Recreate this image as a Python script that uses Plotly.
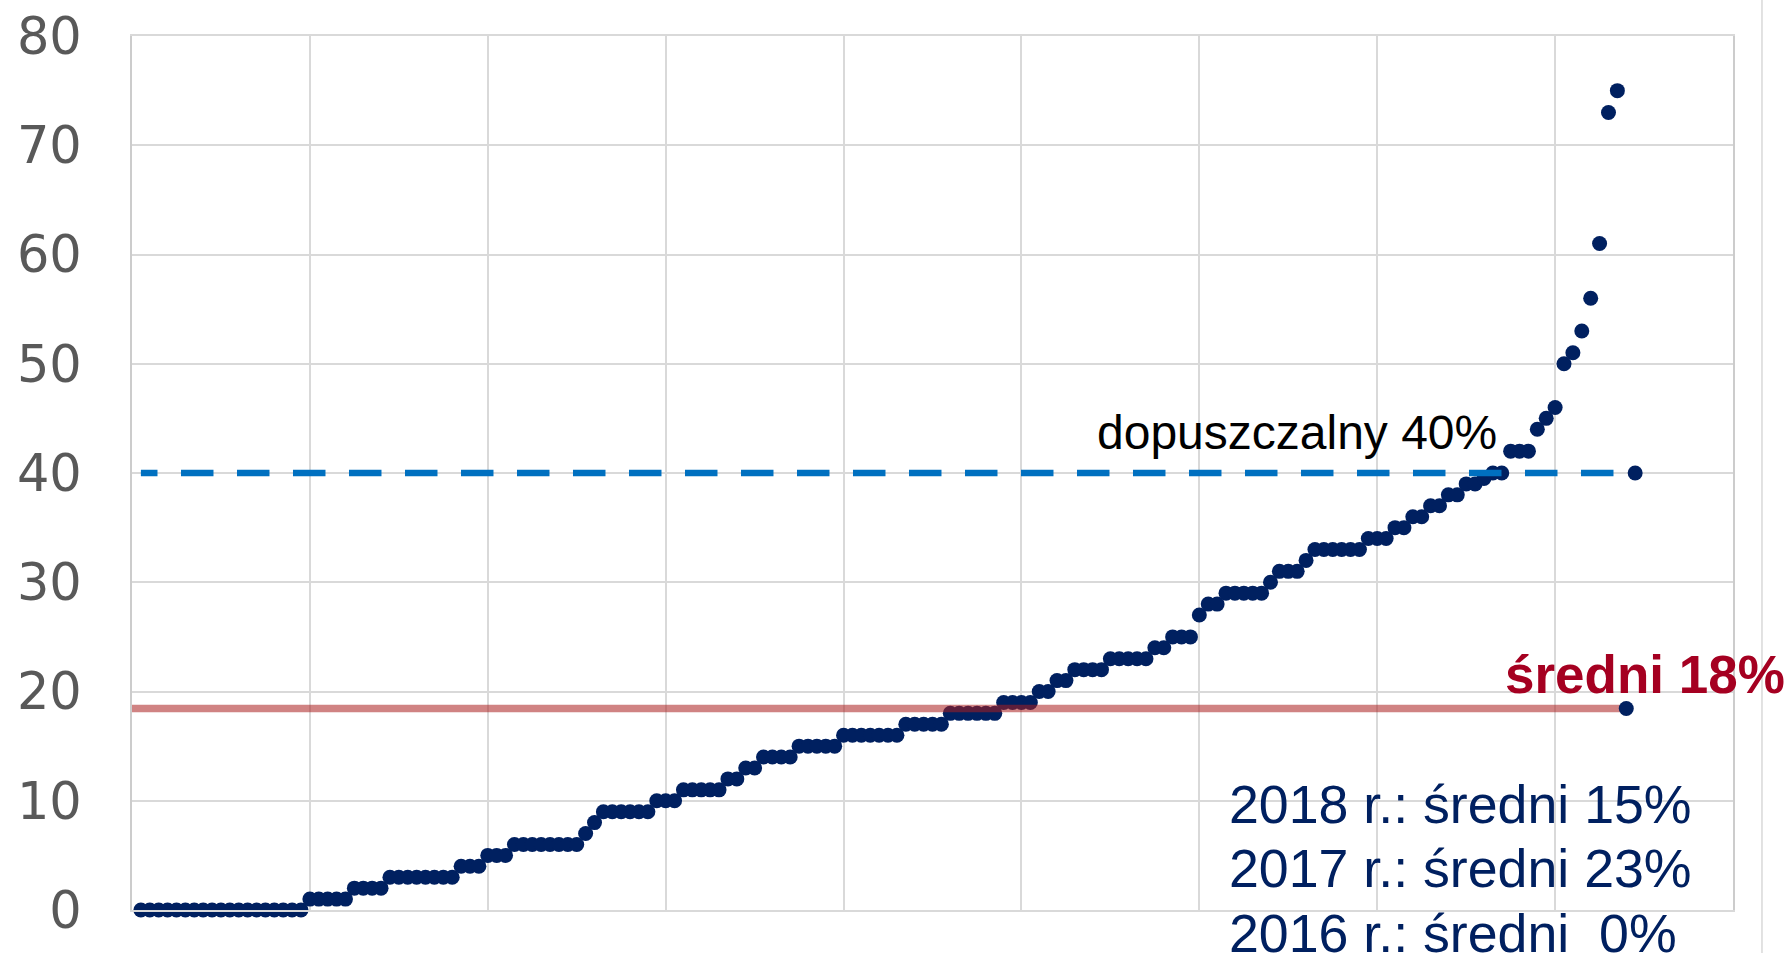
import plotly.graph_objects as go

# ---- data ----
values = [
    0, 0, 0, 0, 0, 0, 0, 0, 0, 0, 0, 0, 0, 0, 0, 0, 0, 0, 0,
    1, 1, 1, 1, 1,
    2, 2, 2, 2,
    3, 3, 3, 3, 3, 3, 3, 3,
    4, 4, 4,
    5, 5, 5,
    6, 6, 6, 6, 6, 6, 6, 6,
    7, 8,
    9, 9, 9, 9, 9, 9,
    10, 10, 10,
    11, 11, 11, 11, 11,
    12, 12,
    13, 13,
    14, 14, 14, 14,
    15, 15, 15, 15, 15,
    16, 16, 16, 16, 16, 16, 16,
    17, 17, 17, 17, 17,
    18, 18, 18, 18, 18, 18,
    19, 19, 19, 19,
    20, 20,
    21, 21,
    22, 22, 22, 22,
    23, 23, 23, 23, 23,
    24, 24,
    25, 25, 25,
    27,
    28, 28,
    29, 29, 29, 29, 29,
    30,
    31, 31, 31,
    32,
    33, 33, 33, 33, 33, 33,
    34, 34, 34,
    35, 35,
    36, 36,
    37, 37,
    38, 38,
    39, 39,
    39.5,
    40, 40,
    42, 42, 42,
    44, 45, 46, 50, 51, 53, 56, 61, 73, 75,
]
x_idx = list(range(1, len(values) + 1))

mean_value = 18.45
limit_value = 40
mean_line_x = [0, 168]
limit_line_x = [1, 169]

y_ticks = [0, 10, 20, 30, 40, 50, 60, 70, 80]
x_grid = [0, 20, 40, 60, 80, 100, 120, 140, 160, 180]

annot_limit = "dopuszczalny 40%"
annot_mean = "średni 18%"
annot_years = ["2018 r.: średni 15%", "2017 r.: średni 23%", "2016 r.: średni  0%"]

NAVY = "#002060"
FONT = "Liberation Sans, Arial, sans-serif"

fig = go.Figure()
fig.add_trace(go.Scatter(
    x=x_idx, y=values, mode="markers",
    marker=dict(color=NAVY, size=15, line=dict(width=0)),
    cliponaxis=False, showlegend=False, hoverinfo="skip"))
fig.add_trace(go.Scatter(
    x=mean_line_x, y=[mean_value, mean_value], mode="lines",
    line=dict(color="rgba(170,30,30,0.55)", width=7.5),
    showlegend=False, hoverinfo="skip"))
dash = "16.6px,23.5px," + ",".join(["32.5px,23.5px"] * 30)
fig.add_trace(go.Scatter(
    x=limit_line_x, y=[limit_value, limit_value], mode="lines",
    line=dict(color="#0070C0", width=6.5, dash=dash),
    showlegend=False, hoverinfo="skip"))
fig.add_trace(go.Scatter(
    x=[mean_line_x[1], limit_line_x[1]], y=[mean_value, limit_value], mode="markers",
    marker=dict(color=NAVY, size=15, line=dict(width=0)),
    cliponaxis=False, showlegend=False, hoverinfo="skip"))

annotations = [
    dict(text=annot_limit, xref="paper", yref="paper", x=0.8541, y=0.5469,
         xanchor="right", yanchor="middle", showarrow=False,
         font=dict(family=FONT, size=48, color="#000000")),
    dict(text="<b>" + annot_mean + "</b>", xref="paper", yref="paper", x=1.0340, y=0.2700,
         xanchor="right", yanchor="middle", showarrow=False,
         font=dict(family=FONT, size=53, color="#A50021")),
]
year_y = [0.1214, 0.0475, -0.0263]
for t, yy in zip(annot_years, year_y):
    annotations.append(dict(text=t.replace("  ", "&nbsp; "), xref="paper", yref="paper", x=0.6842, y=yy,
                            xanchor="left", yanchor="middle", showarrow=False,
                            font=dict(family=FONT, size=53.7, color=NAVY)))

fig.update_layout(
    width=1790, height=953,
    margin=dict(l=132, r=57, t=36, b=43),
    paper_bgcolor="white", plot_bgcolor="white",
    annotations=annotations,
    shapes=[dict(type="line", xref="paper", yref="paper", x0=1.0181, x1=1.0181,
                 y0=-0.06, y1=1.06, line=dict(color="#d9d9d9", width=1.5))],
    xaxis=dict(range=[0, 180], tickvals=x_grid, showticklabels=False, showgrid=True,
               gridcolor="#d9d9d9", gridwidth=1.5, zeroline=False, showline=True,
               linecolor="#d9d9d9", linewidth=1.5, mirror=True, ticks="", automargin=False),
    yaxis=dict(range=[0, 80], tickvals=y_ticks, ticktext=[str(v) for v in y_ticks],
               showgrid=True, gridcolor="#d9d9d9", gridwidth=1.5, zeroline=False,
               showline=True, linecolor="#cccccc", linewidth=2, mirror=True,
               ticks="outside", ticklen=38, tickcolor="rgba(0,0,0,0)", automargin=False,
               tickfont=dict(family="DejaVu Sans, sans-serif", size=51, color="#595959")),
)

fig.write_html("out.html", config={"displayModeBar": False},
               post_script="document.body.style.margin='0';")
